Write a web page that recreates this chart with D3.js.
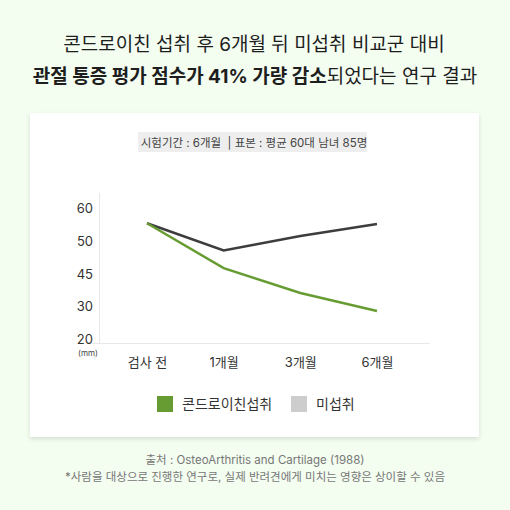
<!DOCTYPE html>
<html lang="ko">
<head>
<meta charset="utf-8">
<title>콘드로이친 섭취 비교</title>
<script src="https://cdn.jsdelivr.net/npm/d3@7"></script>
<style>
  html, body { margin: 0; padding: 0; background: #f3fdf0; }
  svg { display: block; font-family: Inter, "Noto Sans CJK KR", "Noto Sans", sans-serif; }
</style>
</head>
<body>
<svg id="chart" width="510" height="510"></svg>
<script>
// data
var categories = ["검사 전", "1개월", "3개월", "6개월"];
var yTicks = [20, 30, 45, 50, 60];
var seriesNames = ["콘드로이친섭취", "미섭취"];
var intake = [55.5, 45.9, 36.3, 28.7];
var noIntake = [55.5, 48.6, 51.6, 55.3];

var colors = { intake: "#679c33", noIntake: "#3d3d3d", legendNo: "#cdcdcd" };

var svg = d3.select("#chart");

// shadow for the card
var defs = svg.append("defs");
var f = defs.append("filter").attr("id", "shadow").attr("x", "-5%").attr("y", "-5%").attr("width", "110%").attr("height", "115%");
f.append("feDropShadow").attr("dx", 0).attr("dy", 2).attr("stdDeviation", 2)
  .attr("flood-color", "#000").attr("flood-opacity", 0.12);

// title
var title = svg.append("g").attr("text-anchor", "middle").attr("fill", "#1e1e1e");
title.append("text").attr("x", 254).attr("y", 51)
  .style("font-size", "19px")
  .text("콘드로이친 섭취 후 6개월 뒤 미섭취 비교군 대비");
var t2 = title.append("text").attr("x", 255).attr("y", 83).style("font-size", "19px");
t2.append("tspan").style("font-weight", 700).text("관절 통증 평가 점수가 41% 가량 감소");
t2.append("tspan").text("되었다는 연구 결과");

// card
svg.append("rect").attr("x", 30).attr("y", 113).attr("width", 449).attr("height", 324)
  .attr("fill", "#fff").attr("filter", "url(#shadow)");

// info box
svg.append("rect").attr("x", 138).attr("y", 132).attr("width", 229).attr("height", 20).attr("fill", "#eeeeee");
svg.append("text").attr("x", 254).attr("y", 146.5).attr("text-anchor", "middle")
  .attr("fill", "#444").style("font-size", "11.5px").style("white-space", "pre")
  .text("시험기간 : 6개월  | 표본 : 평균 60대 남녀 85명");

// scales
var yTop = 208.5, yBottom = 339.5;
var y = d3.scaleLinear()
  .domain(yTicks)
  .range(yTicks.map(function(d, i) { return yBottom - i * (yBottom - yTop) / (yTicks.length - 1); }));
var x = d3.scalePoint().domain(categories).range([147, 377]);

// axis lines
svg.append("line").attr("x1", 99.5).attr("x2", 99.5).attr("y1", 193).attr("y2", 343)
  .attr("stroke", "#e8e8e8").attr("stroke-width", 1);
svg.append("line").attr("x1", 92).attr("x2", 430).attr("y1", 343.5).attr("y2", 343.5)
  .attr("stroke", "#e8e8e8").attr("stroke-width", 1.2);

// y axis labels
var yAxis = svg.append("g").attr("transform", "translate(93,0)")
  .call(d3.axisLeft(y).tickValues(yTicks).tickSize(0).tickPadding(0).tickFormat(d3.format("d")));
yAxis.select(".domain").remove();
yAxis.selectAll("text").attr("fill", "#333").style("font-size", "13px")
  .style("font-family", "Inter, 'Noto Sans', sans-serif");

svg.append("text").attr("x", 88).attr("y", 356).attr("text-anchor", "middle")
  .attr("fill", "#444").style("font-size", "8px").text("(mm)");

// x axis labels
var xAxis = svg.append("g").attr("transform", "translate(0,360)")
  .call(d3.axisBottom(x).tickSize(0).tickPadding(0));
xAxis.select(".domain").remove();
xAxis.selectAll("text").attr("fill", "#333").style("font-size", "13px").attr("dy", "0.5em")
  .style("font-family", "Inter, 'Noto Sans CJK KR', sans-serif");

// lines
var line = d3.line()
  .x(function(d, i) { return x(categories[i]); })
  .y(function(d) { return y(d); });

svg.append("path").datum(noIntake).attr("d", line)
  .attr("fill", "none").attr("stroke", colors.noIntake).attr("stroke-width", 2.5);
svg.append("path").datum(intake).attr("d", line)
  .attr("fill", "none").attr("stroke", colors.intake).attr("stroke-width", 2.5);

// legend
var legend = svg.append("g");
var lx = [157, 291];
var lcol = [colors.intake, colors.legendNo];
seriesNames.forEach(function(name, i) {
  legend.append("rect").attr("x", lx[i]).attr("y", 396).attr("width", 16).attr("height", 16).attr("fill", lcol[i]);
  legend.append("text").attr("x", lx[i] + 25).attr("y", 409).attr("fill", "#333")
    .style("font-size", "14px").text(name);
});

// footer
var foot = svg.append("g").attr("text-anchor", "middle").attr("fill", "#777").style("font-size", "11.5px");
foot.append("text").attr("x", 255).attr("y", 464).text("출처 : OsteoArthritis and Cartilage (1988)");
foot.append("text").attr("x", 255).attr("y", 481).text("*사람을 대상으로 진행한 연구로, 실제 반려견에게 미치는 영향은 상이할 수 있음");
</script>
</body>
</html>
